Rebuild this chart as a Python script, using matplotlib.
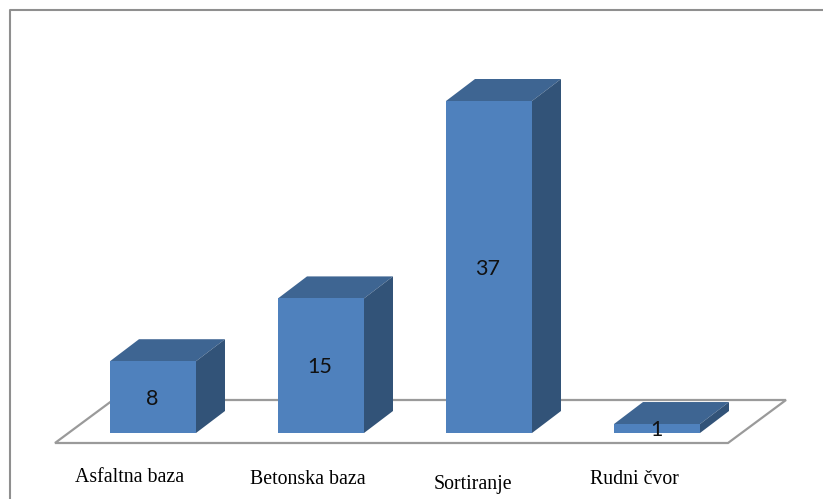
import matplotlib
matplotlib.use("Agg")
import matplotlib.pyplot as plt
from matplotlib.patches import Polygon

categories = ["Asfaltna baza", "Betonska baza", "Sortiranje", "Rudni čvor"]
values = [8, 15, 37, 1]

# layout (pixels of the 823x499 figure mapped onto the data scale)
W, H = 823, 499
PX_X = 168.0          # pixels per category
PX_Y = 332 / 37       # pixels per value unit
X0, Y0 = 153.0, 433.0 # pixel position of category 0 centre / value 0
BAR_W = 86 / PX_X
DEPTH_X = 29 / PX_X
DEPTH_Y = 22 / PX_Y
label_dx = [-23, -13, -16, -23]
label_py = [478, 480, 484, 480]

def ux(px):
    return (px - X0) / PX_X

def uy(py):
    return (Y0 - py) / PX_Y

fig = plt.figure(figsize=(W / 100, H / 100), dpi=100, facecolor="white")
ax = fig.add_axes([0, 0, 1, 1])
ax.set_xlim(ux(0), ux(W))
ax.set_ylim(uy(H), uy(0))
ax.axis("off")

GRID = "#8f8f8f"
# outer frame: left and top only reach the visible area
ax.plot([ux(10), ux(10), ux(W)], [uy(H), uy(10), uy(10)], color=GRID, lw=1.5, solid_capstyle="butt", zorder=1)

# floor
floor = [(ux(55), uy(443)), (ux(728), uy(443)), (ux(786), uy(400)), (ux(113), uy(400))]
ax.add_patch(Polygon(floor, closed=True, fc="white", ec="#9a9a9a", lw=1.6, zorder=2))

FRONT, TOP, SIDE = "#4f81bd", "#3e6592", "#325378"
for i, v in enumerate(values):
    l, r = i - BAR_W / 2, i + BAR_W / 2
    ax.bar(i, v, width=BAR_W, color=FRONT, edgecolor="none", zorder=4)
    ax.add_patch(Polygon([(l, v), (r, v), (r + DEPTH_X, v + DEPTH_Y), (l + DEPTH_X, v + DEPTH_Y)],
                         closed=True, fc=TOP, ec="none", zorder=3))
    ax.add_patch(Polygon([(r, 0), (r + DEPTH_X, DEPTH_Y), (r + DEPTH_X, v + DEPTH_Y), (r, v)],
                         closed=True, fc=SIDE, ec="none", zorder=3))
    ax.text(i - 1 / PX_X, v / 2 - 0.2, str(v), ha="center", va="center",
            family="Lato", fontsize=15.5, color="#111111", zorder=5)
    ax.text(i + label_dx[i] / PX_X, uy(label_py[i]), categories[i], ha="center", va="center",
            family="Liberation Serif", fontsize=14.3, color="black", zorder=5)

fig.savefig("out.png", dpi=100, facecolor="white")
